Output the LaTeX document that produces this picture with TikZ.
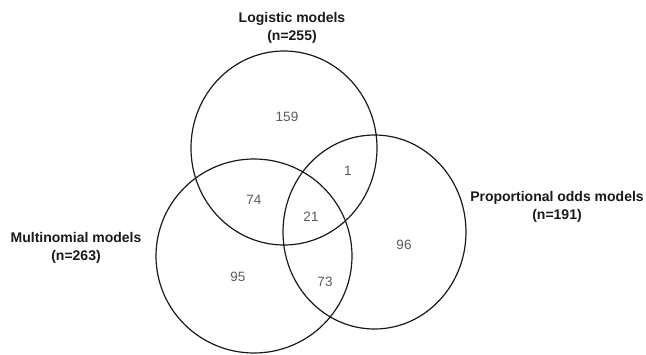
\documentclass[tikz,border=0pt]{standalone}
\usepackage{fontspec}
\setmainfont{Liberation Sans}
\usetikzlibrary{shapes.geometric}
\begin{document}
\begin{tikzpicture}[x=1pt,y=-1pt,
  setcircle/.style={draw=black!90, line width=1.2pt, ellipse, inner sep=0pt},
  title/.style={font=\bfseries\fontsize{14}{18}\selectfont, align=center, inner sep=0pt, text=black!90},
  count/.style={font=\fontsize{13.5}{16}\selectfont, inner sep=0pt, text=black!65}]
\useasboundingbox (0,0) rectangle (646,354);
\node[setcircle, minimum width=186pt, minimum height=194pt] (logistic) at (284,148) {};
\node[setcircle, minimum width=196pt, minimum height=194pt] (multi) at (254,256) {};
\node[setcircle, minimum width=183pt, minimum height=194pt] (prop) at (374.5,232) {};
\node[title] (tlog) at (292,28) {Logistic models\\(n=255)};
\node[title] (tmulti) at (76,248) {Multinomial models\\(n=263)};
\node[title] (tprop) at (557,207) {Proportional odds models\\(n=191)};
\node[count] (c159) at (287,117) {159};
\node[count] (c1) at (348,171) {1};
\node[count] (c74) at (254,200) {74};
\node[count] (c21) at (311,217) {21};
\node[count] (c95) at (238,277) {95};
\node[count] (c73) at (325,282) {73};
\node[count] (c96) at (404,245) {96};
\end{tikzpicture}
\end{document}
